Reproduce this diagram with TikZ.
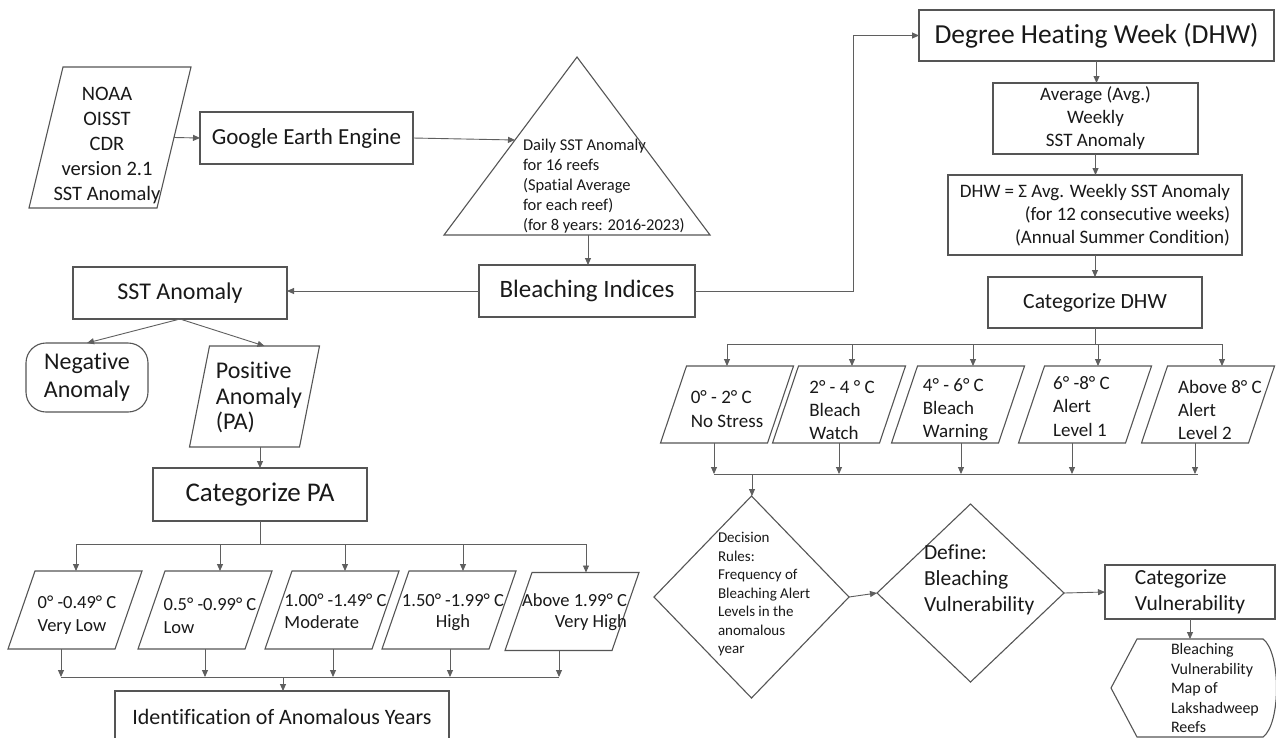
\documentclass[tikz,border=0pt]{standalone}
\usepackage{fontspec}
\setmainfont{Carlito}[Ligatures=NoCommon]
\usetikzlibrary{arrows.meta,shapes.geometric,calc}
\definecolor{edge}{RGB}{85,85,85}
\definecolor{conn}{RGB}{95,95,95}
\definecolor{txt}{RGB}{25,25,25}
\newcommand\myfs[2]{\fontsize{#1pt}{#2pt}\selectfont}
\newcommand\drawpara[2]{\draw[shp] ([xshift=#2/2]#1.north west) -- ([xshift=#2/2]#1.north east) -- ([xshift=-#2/2]#1.south east) -- ([xshift=-#2/2]#1.south west) -- cycle;}
\begin{document}
\begin{tikzpicture}[x=1pt,y=-1pt,
  shp/.style={draw=edge,line width=1.1pt},
  box/.style={shp,rectangle,inner sep=0pt,outer sep=0pt,text=txt,anchor=north west},
  frame/.style={rectangle,draw=none,inner sep=0pt,outer sep=0pt},
  arr/.style={draw=conn,line width=0.9pt,-{Triangle[length=7pt,width=6pt]}},
  ln/.style={draw=conn,line width=0.9pt},
  lbl/.style={text=txt,inner sep=0pt,outer sep=0pt},
  dia/.style={shp,diamond,inner sep=0pt,outer sep=0pt},
  ]
\fill[white] (0,0) rectangle (1276,737);
\useasboundingbox (0,0) rectangle (1276,737);

% ---------- top left ----------
\node[frame,minimum width=128pt,minimum height=141pt] (noaa) at (110,137.5) {};
\drawpara{noaa}{34}
\node[lbl,align=center,font=\myfs{20.5}{25}] (noaat) at (107,145.5) {NOAA\\OISST\\CDR\\version 2.1\\SST Anomaly};

\node[box,minimum width=213pt,minimum height=52pt,font=\myfs{23}{28}] (gee) at (200,112) {Google Earth Engine};
\draw[arr] (noaa.east) -- (gee.west);

\coordinate (tA) at (577,57);
\coordinate (tL) at (444,235);
\coordinate (tR) at (710,235);
\draw[shp] (tA) -- (tR) -- (tL) -- cycle;
\node[lbl,align=left,anchor=west,font=\myfs{16.5}{20}] (trit) at (523,186) {Daily SST Anomaly\\for 16 reefs\\(Spatial Average\\for each reef)\\(for 8 years: 2016-2023)};
\coordinate (triIn) at (515,140);
\draw[arr] (gee.east) -- (triIn);
\coordinate (tB) at (588,235);

\node[box,minimum width=216pt,minimum height=52pt,font=\myfs{25}{30}] (bi) at (479,265) {Bleaching Indices};
\draw[arr] (tB) -- (tB |- bi.north);

% ---------- left branch ----------
\node[box,minimum width=214pt,minimum height=52pt,font=\myfs{24}{29}] (sst) at (73,267) {SST Anomaly};
\draw[arr] (bi.west) -- (bi.west -| sst.east);

\node[box,rounded corners=20pt,minimum width=122pt,minimum height=69pt,align=center,font=\myfs{24}{28}] (neg) at (26,343) {Negative\\Anomaly};
\node[frame,minimum width=110pt,minimum height=101pt] (pos) at (254.5,396.5) {};
\drawpara{pos}{20}
\node[lbl,align=left,font=\myfs{24}{25.5}] (post) at (259,397.5) {Positive\\Anomaly\\(PA)};
\draw[arr] (sst.south) -- (neg.north);
\draw[arr] (sst.south) -- ($(pos.north)+(10,0)$);

\node[box,minimum width=214pt,minimum height=53pt,font=\myfs{27}{32}] (cpa) at (153,468) {Categorize PA};
\draw[arr] (cpa.north |- pos.south) -- (cpa.north);

\foreach \n/\x/\y in {q1/75/610,q2/205/610,q3/332/610,q4/449/610,q5/572/611.5}
  \node[frame,minimum width=107pt,minimum height=78pt] (\n) at (\x,\y) {};
\foreach \n in {q1,q2,q3,q4,q5} {\drawpara{\n}{27}}
\node[lbl,align=left,font=\myfs{18.5}{23}] (q1t) at (77,615.5) {0° -0.49° C\\Very Low};
\node[lbl,align=left,font=\myfs{18.5}{23}] (q2t) at (210,615.5) {0.5° -0.99° C\\Low};
\node[lbl,align=left,font=\myfs{18.5}{22}] (q3t) at (335.5,611) {1.00° -1.49° C\\Moderate};
\node[lbl,align=center,font=\myfs{18.5}{21}] (q4t) at (453,612.5) {1.50° -1.99° C\\High};
\node[lbl,align=right,font=\myfs{18.5}{21}] (q5t) at (574.5,612.5) {Above 1.99° C\\Very High};

\coordinate (pab) at (260,544);
\coordinate (pa1) at (76,544);
\coordinate (pa2) at (220,544);
\coordinate (pa3) at (345,544);
\coordinate (pa4) at (463,544);
\coordinate (pa5) at (586,544);
\draw[ln] (cpa.south) -- (pab);
\draw[ln] (pa1) -- (pa5);
\foreach \i in {1,...,5} {\draw[arr] (pa\i) -- (pa\i |- q\i.north);}

\node[box,minimum width=334pt,minimum height=52pt,font=\myfs{22}{26}] (idf) at (115,691) {Identification of Anomalous Years};
\coordinate (pl1) at (61,677);
\coordinate (pl2) at (205,677);
\coordinate (pl3) at (333,677);
\coordinate (pl4) at (450,677);
\coordinate (pl5) at (559,677);
\coordinate (plm) at (283,677);
\foreach \i in {1,...,5} {\draw[arr] (pl\i |- q\i.south) -- (pl\i);}
\draw[ln] (pl1) -- (pl5);
\draw[arr] (plm) -- (plm |- idf.north);

% ---------- DHW column ----------
\node[box,minimum width=355pt,minimum height=51pt,font=\myfs{27.5}{32}] (dhw) at (919,10) {Degree Heating Week (DHW)};
\draw[arr] (bi.east) -- ++(158,0) |- (dhw.west);
\node[box,minimum width=205pt,minimum height=71pt,align=center,font=\myfs{19}{23}] (avg) at (993,83) {Average (Avg.)\\Weekly\\SST Anomaly};
\draw[arr] (dhw.south) -- (dhw.south |- avg.north);
\node[box,minimum width=294pt,minimum height=80pt,align=right,font=\myfs{19}{23}] (dhweq) at (948,175) {DHW = Σ Avg. Weekly SST Anomaly\\(for 12 consecutive weeks)\\(Annual Summer Condition)};
\draw[arr] (avg.south) -- (avg.south |- dhweq.north);
\node[box,minimum width=214pt,minimum height=51pt,font=\myfs{21.7}{26}] (cdhw) at (988,277) {Categorize DHW};
\draw[arr] (dhweq.south) -- (dhweq.south |- cdhw.north);

\foreach \n/\x in {p1/727,p2/839,p3/958,p4/1085,p5/1208}
  \node[frame,minimum width=107pt,minimum height=77pt] (\n) at (\x,404.5) {};
\foreach \n in {p1,p2,p3,p4,p5} {\drawpara{\n}{26}}
\node[lbl,align=left,font=\myfs{19}{24}] (p1t) at (727,409) {0° - 2° C\\No Stress};
\node[lbl,align=left,font=\myfs{19}{23}] (p2t) at (842,410) {2° - 4 ° C\\Bleach\\Watch};
\node[lbl,align=left,font=\myfs{19}{23}] (p3t) at (955.5,410) {4° - 6° C\\Bleach\\Warning};
\node[lbl,align=left,font=\myfs{19}{23.5}] (p4t) at (1081.5,406.5) {6° -8° C\\Alert\\Level 1};
\node[lbl,align=left,font=\myfs{19}{23}] (p5t) at (1220,410) {Above 8° C\\Alert\\Level 2};

\coordinate (db1) at (727,344);
\coordinate (db2) at (852,344);
\coordinate (db3) at (973,344);
\coordinate (db4) at (1098,344);
\coordinate (db5) at (1222,344);
\draw[ln] (cdhw.south) -- (cdhw.south |- db1);
\draw[ln] (db1) -- (db5);
\foreach \i in {1,...,5} {\draw[arr] (db\i) -- (db\i |- p\i.north);}

\coordinate (dl1) at (714,474);
\coordinate (dl2) at (839,474);
\coordinate (dl3) at (961,474);
\coordinate (dl4) at (1072,474);
\coordinate (dl5) at (1195,474);
\coordinate (dlend) at (1198,474);
\coordinate (dlm) at (752,474);
\foreach \i in {1,...,5} {\draw[arr] (dl\i |- p\i.south) -- (dl\i);}
\draw[ln] (dl1) -- (dlend);

\node[dia,minimum width=195pt,minimum height=202pt] (d1) at (751.5,597) {};
\node[lbl,align=left,anchor=west,font=\myfs{15}{18.5}] (d1t) at (718,594.5) {Decision\\Rules:\\Frequency of\\Bleaching Alert\\Levels in the\\anomalous\\year};
\draw[arr] (dlm) -- (dlm |- d1.north);

\node[dia,minimum width=187pt,minimum height=178pt] (d2) at (970.5,593) {};
\node[lbl,align=left,anchor=west,font=\myfs{21.5}{26}] (d2t) at (924,580) {Define:\\Bleaching\\Vulnerability};
\draw[arr] (d1.east) -- (d2.west);

\node[box,minimum width=170pt,minimum height=54pt,align=left,font=\myfs{21.5}{26}] (cv) at (1105,565) {Categorize\\Vulnerability};
\draw[arr] (d2.east) -- (cv.west);

\node[frame,minimum width=165pt,minimum height=98pt] (map) at (1193.5,688) {};
\draw[shp] (1137,639) -- (1263,639) .. controls (1281,652) and (1281,724) .. (1263,737) -- (1137,737) -- (1111,688) -- cycle;
\node[lbl,align=left,anchor=west,font=\myfs{16}{19.5}] (mapt) at (1171,688) {Bleaching\\Vulnerability\\Map of\\Lakshadweep\\Reefs};
\draw[arr] (cv.south) -- (cv.south |- map.north);
\end{tikzpicture}
\end{document}
